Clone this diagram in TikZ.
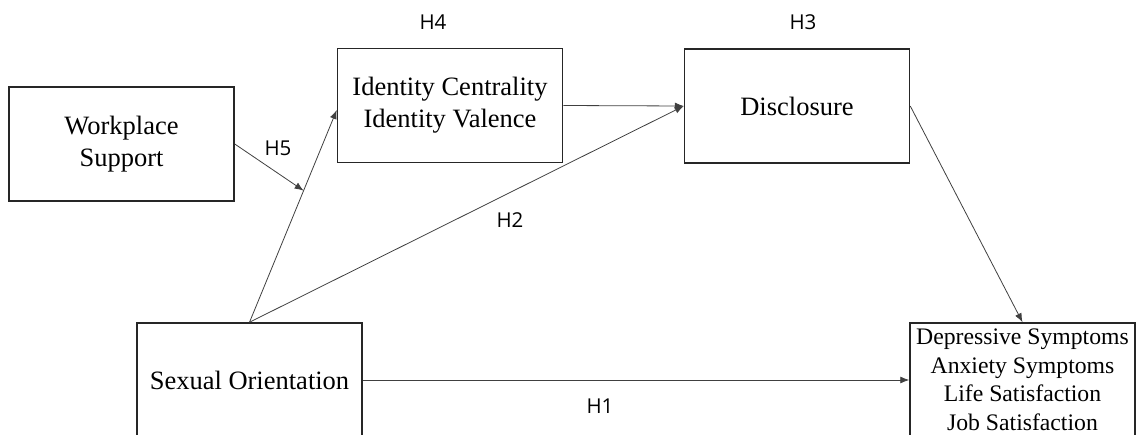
\documentclass[tikz,border=0pt]{standalone}
\usepackage{fontspec}
\setmainfont{Liberation Serif}
\newfontfamily\hfont{Open Sans}
\usetikzlibrary{arrows.meta,calc}
\begin{document}
\begin{tikzpicture}[x=1pt,y=-1pt,
  var/.style={draw=black!85,line width=1.5pt,minimum width=225pt,minimum height=114pt,
    inner sep=0pt,align=center,font=\fontsize{26.5}{32}\selectfont},
  outvar/.style={var,font=\fontsize{23.7}{28.5}\selectfont},
  path/.style={draw=black!75,line width=0.8pt,-{Latex[length=9pt,width=7pt]}},
  hyp/.style={font=\hfont\fontsize{20.5}{24}\selectfont,inner sep=0pt}]
\useasboundingbox (0,0) rectangle (1137,434);
\clip (0,0) rectangle (1137,434);
% constructs
\node[var] (ws)  at (121.5,144) {Workplace\\Support};
\node[var] (idn) at (450,105.5) {Identity Centrality\\Identity Valence};
\node[var] (dis) at (797,106) {Disclosure};
\node[var] (so)  at (249.5,380) {Sexual Orientation};
\node[outvar] (out) at (1022.5,380) {Depressive Symptoms\\Anxiety Symptoms\\Life Satisfaction\\Job Satisfaction};
% paths
\coordinate (idnin) at ([yshift=-4.5pt]idn.west);
\coordinate (mod) at ($(so.north)!0.62!(idnin)$);
\draw[path] (so.north) -- (idnin);
\draw[path] (so.north) -- (dis.west);
\draw[path] (idn.east) -- (dis.west);
\draw[path] (ws.east) -- (mod);
\draw[path] (dis.east) -- (out.north);
\draw[path] (so.east) -- (out.west);
% hypothesis labels
\node[hyp] (h4) at (433,22) {H4};
\node[hyp] (h3) at (803,22) {H3};
\node[hyp] (h5) at (278,148) {H5};
\node[hyp] (h2) at (510,220) {H2};
\node[hyp] (h1) at (600,406) {H1};
\end{tikzpicture}
\end{document}
